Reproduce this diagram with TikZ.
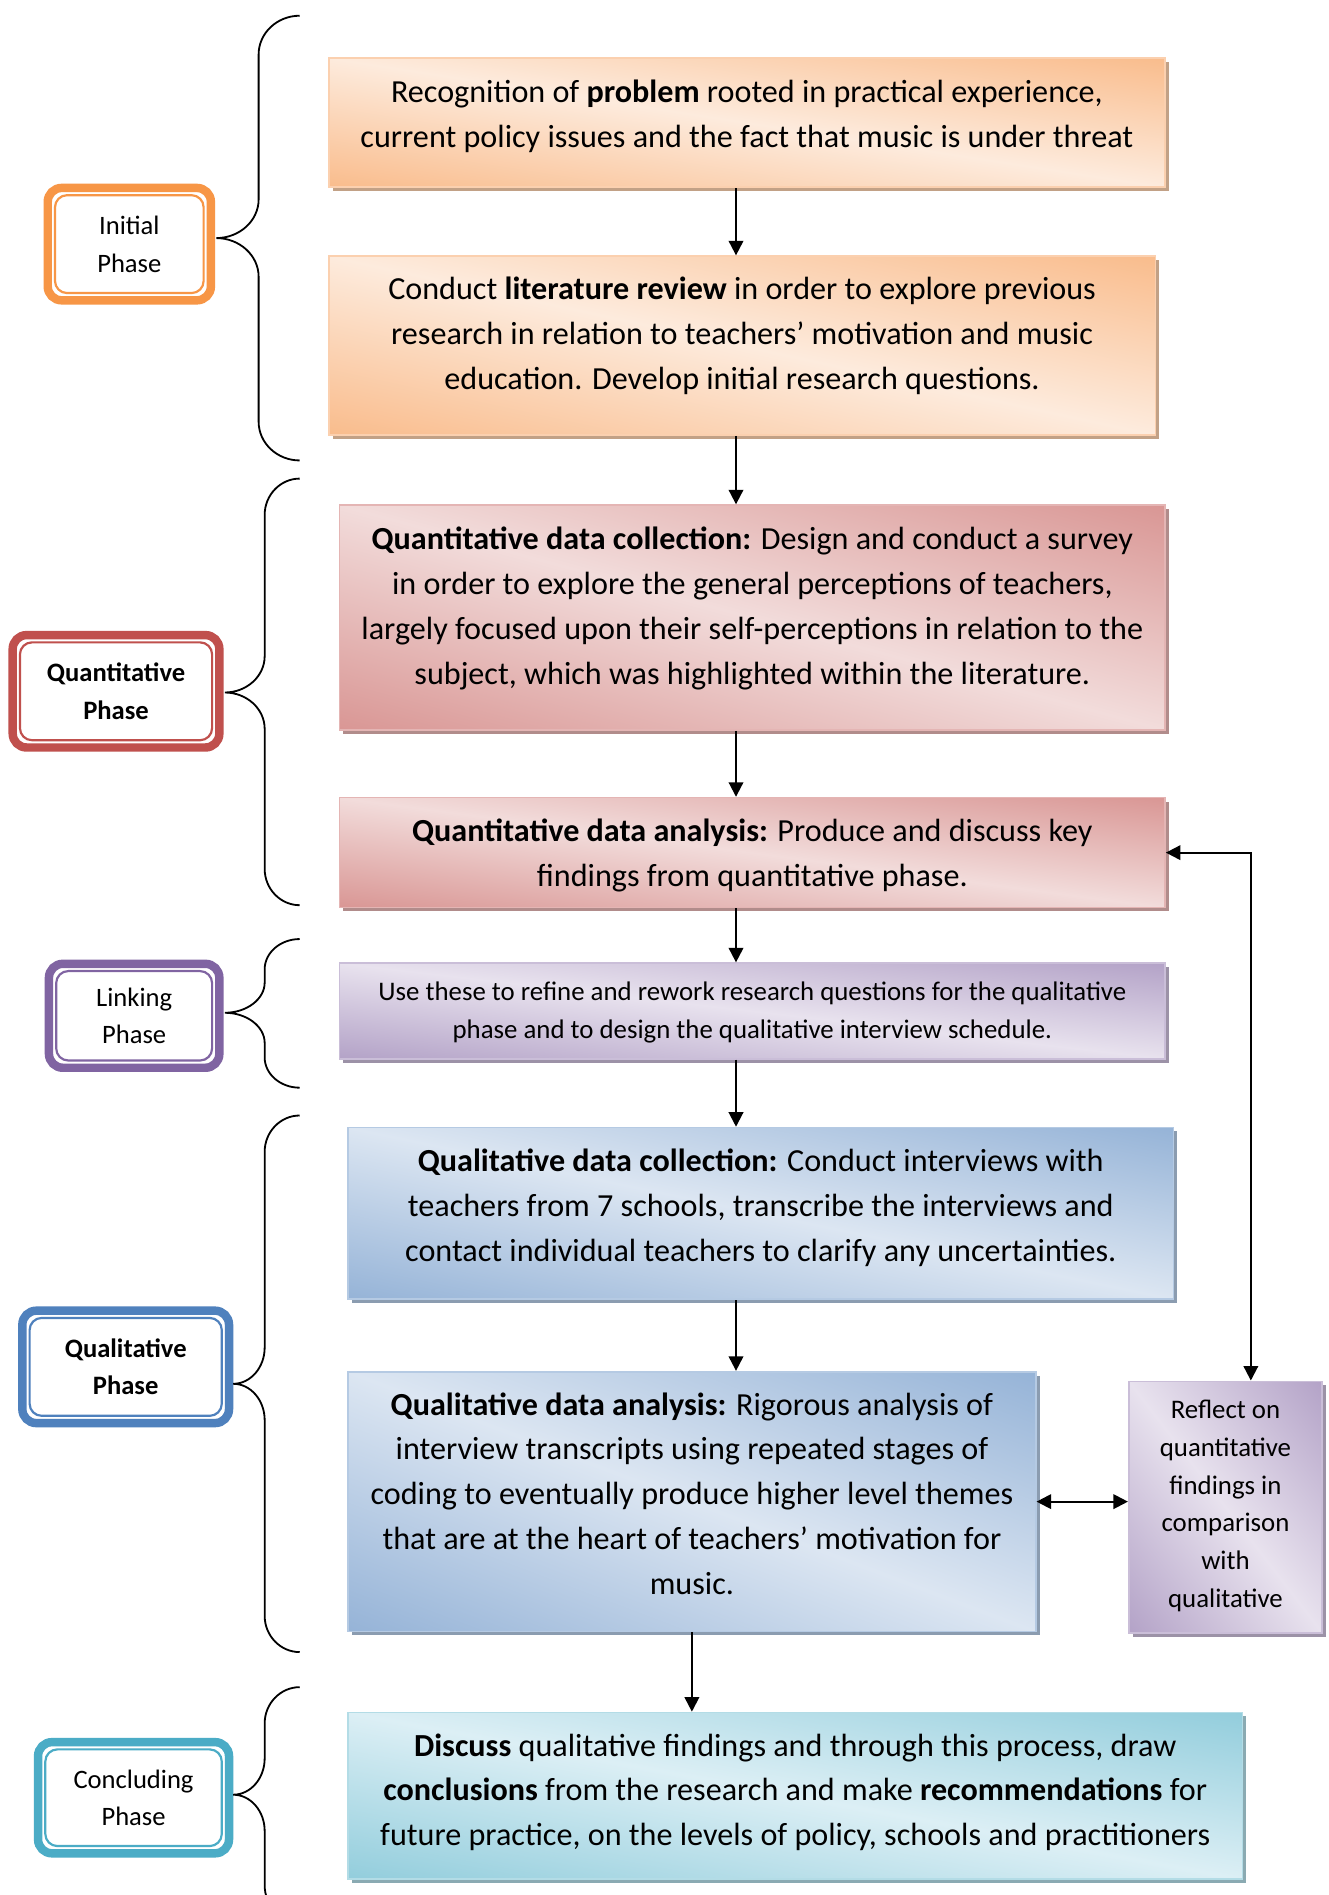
\documentclass[tikz,border=0pt]{standalone}
\usepackage{fontspec}
\setmainfont{Carlito}
\usetikzlibrary{arrows.meta,shadows}

\definecolor{orA}{HTML}{F9BC8C}\definecolor{orL}{HTML}{FDEBDD}
\definecolor{rdA}{HTML}{D99694}\definecolor{rdL}{HTML}{F2DCDB}
\definecolor{puA}{HTML}{B3A2C7}\definecolor{puL}{HTML}{E8E2EE}
\definecolor{blA}{HTML}{95B3D7}\definecolor{blL}{HTML}{DCE6F2}
\definecolor{tlA}{HTML}{92CDDC}\definecolor{tlL}{HTML}{DCEFF5}
\definecolor{orD}{HTML}{F79646}\definecolor{rdD}{HTML}{C0504D}
\definecolor{puD}{HTML}{8064A2}\definecolor{blD}{HTML}{4F81BD}
\definecolor{tlD}{HTML}{4BACC6}

\pgfdeclareverticalshading{sh-or}{100bp}{color(0bp)=(orA); color(25bp)=(orA); color(50bp)=(orL); color(75bp)=(orA); color(100bp)=(orA)}
\pgfdeclareverticalshading{sh-rd}{100bp}{color(0bp)=(rdA); color(25bp)=(rdA); color(50bp)=(rdL); color(75bp)=(rdA); color(100bp)=(rdA)}
\pgfdeclareverticalshading{sh-pu}{100bp}{color(0bp)=(puA); color(25bp)=(puA); color(50bp)=(puL); color(75bp)=(puA); color(100bp)=(puA)}
\pgfdeclareverticalshading{sh-bl}{100bp}{color(0bp)=(blA); color(25bp)=(blA); color(50bp)=(blL); color(75bp)=(blA); color(100bp)=(blA)}
\pgfdeclareverticalshading{sh-tl}{100bp}{color(0bp)=(tlA); color(25bp)=(tlA); color(50bp)=(tlL); color(75bp)=(tlA); color(100bp)=(tlA)}

\newcommand\diagfill[1]{%
  \pgftransformreset
  \pgfpointdiff{\pgfpointanchor{path picture bounding box}{south west}}{\pgfpointanchor{path picture bounding box}{north east}}%
  \pgfgetlastxy{\bbW}{\bbH}%
  \pgfmathsetmacro\sca{\bbW/50}%
  \pgfmathsetmacro\scb{-\bbH/50}%
  \pgfmathsetmacro\scd{\bbH/50}%
  \pgftransformshift{\pgfpointanchor{path picture bounding box}{center}}%
  \pgftransformcm{\sca}{\scb}{\sca}{\scd}{\pgfpointorigin}%
  \pgflowlevelsynccm
  \pgfuseshading{#1}%
}

\tikzset{
  stagebox/.style={draw=#1A!70!white, line width=0.7pt, inner sep=0pt,
    path picture={\diagfill{sh-#1}},
    drop shadow={shadow xshift=1.6pt, shadow yshift=-1.6pt, fill=#1A!55!gray, opacity=1}},
  bigtxt/.style={align=center, inner sep=0pt, font=\fontsize{13.3}{18.6}\selectfont},
  smalltxt/.style={align=center, inner sep=0pt, font=\fontsize{11.1}{15.6}\selectfont},
  phouter/.style={draw=#1, line width=3.5pt, rounded corners=5.75pt, fill=white, inner sep=0pt},
  phinner/.style={draw=#1, line width=0.9pt, rounded corners=5pt, inner sep=0pt, align=center, font=\fontsize{11}{15.6}\selectfont},
  bracel/.style={line width=0.75pt},
  arr/.style={line width=0.85pt, -{Triangle[length=6pt,width=6pt]}},
  arrb/.style={line width=0.85pt, {Triangle[length=6pt,width=6pt]}-{Triangle[length=6pt,width=6pt]}},
}

% name, scheme, x1, y1, x2, y2
\newcommand\mkstage[6]{%
  \node[stagebox=#2, minimum width={(#5-#3)*0.5pt}, minimum height={(#6-#4)*0.5pt}] (#1) at ({(#3+#5)/2},{(#4+#6)/2}) {};
}
% name, colour, x1, y1, x2, y2, text
\newcommand\mkphase[7]{%
  \node[phouter=#2, minimum width={(#5-#3-7)*0.5pt}, minimum height={(#6-#4-7)*0.5pt}] (#1) at ({(#3+#5)/2},{(#4+#6)/2}) {};
  \node[phinner=#2, minimum width={(#5-#3-19)*0.5pt}, minimum height={(#6-#4-19)*0.5pt}] (#1-t) at ({(#3+#5)/2},{(#4+#6)/2}) {#7};
}
% spine S, top T, bottom B, mid M, tip X, end E, radius r
\newcommand\phbrace[7]{%
  \draw[bracel] (#6,#2) .. controls ({#6-0.55*(#6-#1)},#2) and (#1,{#2+0.45*#7}) .. (#1,{#2+#7})
   -- (#1,{#4-#7}) .. controls (#1,{#4-0.45*#7}) and ({#5+0.55*(#1-#5)},#4) .. (#5,#4)
   .. controls ({#5+0.55*(#1-#5)},#4) and (#1,{#4+0.45*#7}) .. (#1,{#4+#7})
   -- (#1,{#3-#7}) .. controls (#1,{#3-0.45*#7}) and ({#6-0.55*(#6-#1)},#3) .. (#6,#3);
}

\begin{document}
\begin{tikzpicture}[x=0.5pt,y=-0.5pt]
\path[use as bounding box, fill=white] (0,0) rectangle (1099,1568);
\clip (0,0) rectangle (1099,1568);

% stage boxes
\mkstage{b1}{or}{272}{48}{964}{155}
\mkstage{b2}{or}{272}{212}{956}{360}
\mkstage{b3}{rd}{281}{418}{964}{604}
\mkstage{b4}{rd}{281}{660}{964}{751}
\mkstage{b5}{pu}{281}{797}{964}{876}
\mkstage{b6}{bl}{288}{933}{971}{1075}
\mkstage{b7}{bl}{288}{1135}{857}{1350}
\mkstage{b8}{pu}{934}{1143}{1094}{1351}
\mkstage{b9}{tl}{288}{1417}{1028}{1555}

\node[bigtxt] (b1t) at (618,96.5) {Recognition of \textbf{problem} rooted in practical experience,\\current policy issues and the fact that music is under threat};
\node[bigtxt] (b2t) at (614,277.5) {Conduct \textbf{literature review} in order to explore previous\\research in relation to teachers’ motivation and music\\education. Develop initial research questions.};
\node[bigtxt] (b3t) at (622.5,503.5) {\textbf{Quantitative data collection:} Design and conduct a survey\\in order to explore the general perceptions of teachers,\\largely focused upon their self-perceptions in relation to the\\subject, which was highlighted within the literature.};
\node[bigtxt] (b4t) at (622.5,707.5) {\textbf{Quantitative data analysis:} Produce and discuss key\\findings from quantitative phase.};
\node[smalltxt] (b5t) at (622.5,838) {Use these to refine and rework research questions for the qualitative\\phase and to design the qualitative interview schedule.};
\node[bigtxt] (b6t) at (629.5,999.5) {\textbf{Qualitative data collection:} Conduct interviews with\\teachers from 7 schools, transcribe the interviews and\\contact individual teachers to clarify any uncertainties.};
\node[bigtxt] (b7t) at (572.5,1236) {\textbf{Qualitative data analysis:} Rigorous analysis of\\interview transcripts using repeated stages of\\coding to eventually produce higher level themes\\that are at the heart of teachers’ motivation for\\music.};
\node[smalltxt] (b8t) at (1014,1246) {Reflect on\\quantitative\\findings in\\comparison\\with\\qualitative};
\node[bigtxt] (b9t) at (658,1483) {\textbf{Discuss} qualitative findings and through this process, draw\\\textbf{conclusions} from the research and make \textbf{recommendations} for\\future practice, on the levels of policy, schools and practitioners};

% phase labels
\mkphase{p1}{orD}{36}{152}{178}{252}{Initial\\Phase}
\mkphase{p2}{rdD}{7}{522}{185}{622}{\textbf{Quantitative}\\\textbf{Phase}}
\mkphase{p3}{puD}{37}{794}{185}{887}{Linking\\Phase}
\mkphase{p4}{blD}{15}{1081}{193}{1181}{\textbf{Qualitative}\\\textbf{Phase}}
\mkphase{p5}{tlD}{28}{1438}{193}{1537}{Concluding\\Phase}

% braces
\phbrace{214}{13}{381}{197}{179}{248}{32}
\phbrace{219}{396}{749}{573}{186}{248}{30}
\phbrace{219}{777}{900}{838}{186}{248}{25}
\phbrace{219}{923}{1367}{1145}{193}{248}{30}
\phbrace{219}{1396}{1590}{1485}{193}{248}{30}

% connectors
\coordinate (ax) at (609,0);
\coordinate (rx) at (1035,0);
\draw[arr] (b1.south -| ax) -- (b2.north -| ax);
\draw[arr] (b2.south -| ax) -- (b3.north -| ax);
\draw[arr] (b3.south -| ax) -- (b4.north -| ax);
\draw[arr] (b4.south -| ax) -- (b5.north -| ax);
\draw[arr] (b5.south -| ax) -- (b6.north -| ax);
\draw[arr] (b6.south -| ax) -- (b7.north -| ax);
\draw[arr] (b7.south) -- (b7.south |- b9.north);
\draw[arrb] (b7.east) -- (b7.east -| b8.west);
\draw[arrb] (b8.north -| rx) |- (b4.east);
\end{tikzpicture}
\end{document}
